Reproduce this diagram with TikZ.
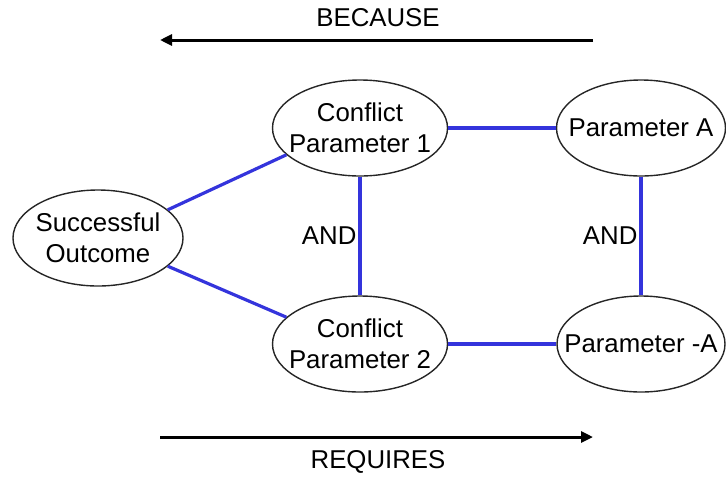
\documentclass[tikz,border=0pt]{standalone}
\usepackage{fontspec}
\setmainfont{Liberation Sans}
\usetikzlibrary{positioning}
\usetikzlibrary{shapes.geometric}
\usetikzlibrary{arrows.meta}

\definecolor{linkblue}{RGB}{52,52,220}

\begin{document}
\begin{tikzpicture}[x=0.5pt, y=-0.5pt, font=\fontsize{12.9}{15.5}\selectfont]
    \tikzstyle{param}=[draw=black!85, ellipse, line width=0.7pt, minimum height=48pt, inner sep=0pt]
    \tikzstyle{ptext}=[align=center, inner sep=0pt]
    \tikzstyle{link}=[draw=linkblue, line width=1.6pt]
    \tikzstyle{flow}=[draw=black, line width=1.5pt, -{Triangle[length=6pt, width=5.5pt]}]
    \tikzstyle{annot}=[inner sep=1pt]

    \useasboundingbox (0,0) rectangle (726,477);

    %% Outcome and the two conflicting parameters
    \node[param, minimum width=85pt, label={[ptext]center:Successful\\Outcome}] (so) at (98,238) {};
    \node[param, minimum width=87.5pt, label={[ptext]center:Conflict\\Parameter 1}] (cp1) at (360,128) {};
    \node[param, minimum width=87.5pt, label={[ptext]center:Conflict\\Parameter 2}] (cp2) at (360,344) {};

    %% Opposing parameters
    \node[param, minimum width=84.5pt, label={[ptext]center:Parameter A}] (pa) at (641,128) {};
    \node[param, minimum width=84pt, label={[ptext]center:Parameter -A}] (pma) at (641,344) {};

    \path[link] (so.22) -- (cp1.200);
    \path[link] (so.-22) -- (cp2.160);
    \path[link] (cp1) -- (pa);
    \path[link] (cp2) -- (pma);
    \path[link] (cp1) -- node[annot, left] (and1) {AND} (cp2);
    \path[link] (pa) -- node[annot, left] (and2) {AND} (pma);

    %% Reading directions
    \coordinate (becR) at (593,40);
    \coordinate (becL) at (160,40);
    \coordinate (reqL) at (160,437);
    \coordinate (reqR) at (593,437);
    \draw[flow] (becR) -- (becL);
    \draw[flow] (reqL) -- (reqR);
    \node (because) at (378,18) {BECAUSE};
    \node (requires) at (378,462) {REQUIRES};
\end{tikzpicture}
\end{document}
